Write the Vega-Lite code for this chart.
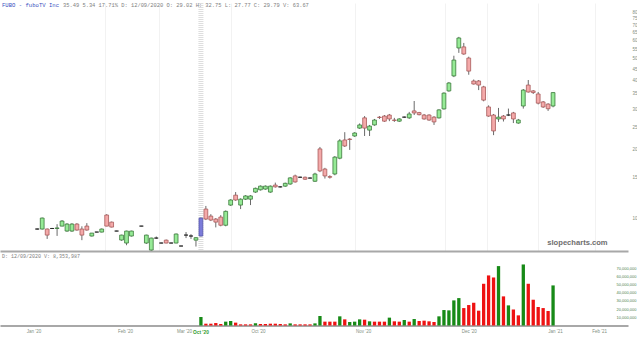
{
  "$schema": "https://vega.github.io/schema/vega-lite/v6.json",
  "padding": 0,
  "background": "white",
  "bounds": "flush",
  "spacing": 2.5,
  "config": {"view": {"stroke": null}, "concat": {"spacing": 2.5}, "axisY": {"labelOverlap": false, "labelBound": false}},
  "title": {"text": "FUBO - fuboTV Inc", "anchor": "start", "frame": "group", "offset": -8, "dx": 2, "font": "Liberation Mono", "fontSize": 5.6, "fontWeight": "normal", "color": "#3a4fc0"},
  "datasets": {
    "bars": [
      {"i":6,"o":8.95,"h":9.0,"l":8.9,"c":8.95},
      {"i":7,"o":8.95,"h":10.05,"l":8.9,"c":10.0},
      {"i":8,"o":8.95,"h":9.0,"l":8.1,"c":8.42},
      {"i":9,"o":9.0,"h":9.05,"l":8.95,"c":9.0},
      {"i":10,"o":9.0,"h":9.4,"l":8.35,"c":9.05},
      {"i":11,"o":9.22,"h":9.8,"l":9.2,"c":9.7},
      {"i":12,"o":8.77,"h":9.5,"l":8.7,"c":9.41},
      {"i":13,"o":8.77,"h":9.5,"l":8.7,"c":9.41},
      {"i":14,"o":9.41,"h":9.5,"l":8.8,"c":8.86},
      {"i":15,"o":8.95,"h":9.2,"l":8.0,"c":8.42},
      {"i":16,"o":9.22,"h":9.5,"l":8.8,"c":8.86},
      {"i":17,"o":8.34,"h":8.6,"l":8.3,"c":8.59},
      {"i":18,"o":8.68,"h":8.7,"l":8.66,"c":8.68},
      {"i":19,"o":8.68,"h":9.0,"l":8.65,"c":8.95},
      {"i":20,"o":10.31,"h":10.4,"l":9.2,"c":9.22},
      {"i":21,"o":9.6,"h":9.65,"l":9.1,"c":9.13},
      {"i":22,"o":8.77,"h":8.8,"l":8.75,"c":8.77},
      {"i":23,"o":8.01,"h":8.45,"l":7.95,"c":8.42},
      {"i":24,"o":7.77,"h":8.8,"l":7.6,"c":8.77},
      {"i":25,"o":8.34,"h":8.8,"l":8.3,"c":8.77},
      {"i":27,"o":9.22,"h":9.24,"l":9.2,"c":9.22},
      {"i":28,"o":7.77,"h":8.45,"l":7.7,"c":8.42},
      {"i":29,"o":7.24,"h":8.2,"l":7.2,"c":8.17},
      {"i":30,"o":8.17,"h":8.3,"l":8.1,"c":8.17},
      {"i":31,"o":7.77,"h":7.8,"l":7.75,"c":7.77},
      {"i":32,"o":8.0,"h":8.05,"l":7.75,"c":7.77},
      {"i":33,"o":7.77,"h":7.8,"l":7.75,"c":7.77},
      {"i":34,"o":7.77,"h":8.55,"l":7.75,"c":8.51},
      {"i":35,"o":7.54,"h":7.56,"l":7.52,"c":7.54},
      {"i":36,"o":8.42,"h":8.68,"l":8.17,"c":8.42},
      {"i":37,"o":8.34,"h":8.5,"l":8.1,"c":8.34},
      {"i":38,"o":8.0,"h":8.25,"l":7.5,"c":8.2},
      {"i":39,"o":8.34,"h":10.05,"l":8.3,"c":10.0,"v":10400000,"vd":"u"},
      {"i":40,"o":10.95,"h":11.3,"l":9.8,"c":9.9,"v":2200000,"vd":"d"},
      {"i":41,"o":10.2,"h":10.4,"l":9.7,"c":9.8,"v":2200000,"vd":"d"},
      {"i":42,"o":9.9,"h":10.0,"l":9.1,"c":9.6,"v":3000000,"vd":"d"},
      {"i":43,"o":10.1,"h":10.3,"l":9.2,"c":9.3,"v":1800000,"vd":"d"},
      {"i":44,"o":9.3,"h":10.8,"l":9.2,"c":10.7,"v":4700000,"vd":"u"},
      {"i":45,"o":11.4,"h":12.1,"l":11.3,"c":12.0,"v":5500000,"vd":"u"},
      {"i":46,"o":12.6,"h":13.0,"l":11.9,"c":12.0,"v":3500000,"vd":"d"},
      {"i":47,"o":11.4,"h":12.2,"l":10.95,"c":12.1,"v":1400000,"vd":"d"},
      {"i":48,"o":12.1,"h":12.6,"l":12.0,"c":12.5,"v":1400000,"vd":"d"},
      {"i":49,"o":12.1,"h":12.6,"l":11.4,"c":12.5,"v":1400000,"vd":"d"},
      {"i":50,"o":13.0,"h":13.6,"l":12.9,"c":13.5,"v":2600000,"vd":"u"},
      {"i":51,"o":13.3,"h":13.9,"l":13.2,"c":13.8,"v":1800000,"vd":"d"},
      {"i":52,"o":13.4,"h":13.9,"l":13.3,"c":13.8,"v":1800000,"vd":"d"},
      {"i":53,"o":13.0,"h":13.9,"l":12.9,"c":13.8,"v":2200000,"vd":"d"},
      {"i":54,"o":13.95,"h":14.3,"l":13.6,"c":13.7,"v":2200000,"vd":"d"},
      {"i":55,"o":13.7,"h":13.8,"l":13.6,"c":13.7,"v":1800000,"vd":"d"},
      {"i":56,"o":13.8,"h":14.3,"l":13.7,"c":14.2,"v":1400000,"vd":"d"},
      {"i":57,"o":14.1,"h":15.1,"l":14.0,"c":15.0,"v":2600000,"vd":"u"},
      {"i":58,"o":15.3,"h":15.5,"l":14.3,"c":14.4,"v":1400000,"vd":"d"},
      {"i":59,"o":15.1,"h":15.2,"l":15.0,"c":15.1,"v":1400000,"vd":"d"},
      {"i":60,"o":15.1,"h":15.2,"l":14.7,"c":14.8,"v":1400000,"vd":"d"},
      {"i":61,"o":14.97,"h":15.1,"l":14.9,"c":14.97,"v":1400000,"vd":"d"},
      {"i":62,"o":14.5,"h":15.8,"l":14.4,"c":15.6,"v":2600000,"vd":"u"},
      {"i":63,"o":20.1,"h":20.5,"l":15.9,"c":16.1,"v":11600000,"vd":"u"},
      {"i":64,"o":16.4,"h":16.6,"l":14.9,"c":15.3,"v":4700000,"vd":"d"},
      {"i":65,"o":15.2,"h":15.4,"l":14.9,"c":15.1,"v":4700000,"vd":"d"},
      {"i":66,"o":15.6,"h":18.7,"l":15.4,"c":18.5,"v":4700000,"vd":"d"},
      {"i":67,"o":18.3,"h":22.2,"l":18.1,"c":21.8,"v":11200000,"vd":"u"},
      {"i":68,"o":22.0,"h":23.8,"l":20.5,"c":20.7,"v":7500000,"vd":"d"},
      {"i":69,"o":22.2,"h":22.4,"l":19.9,"c":22.1,"v":4300000,"vd":"u"},
      {"i":70,"o":22.9,"h":23.8,"l":22.7,"c":23.6,"v":4700000,"vd":"u"},
      {"i":71,"o":24.8,"h":26.0,"l":24.6,"c":25.6,"v":7500000,"vd":"u"},
      {"i":72,"o":27.5,"h":28.0,"l":22.9,"c":24.8,"v":7100000,"vd":"d"},
      {"i":73,"o":24.3,"h":25.6,"l":22.9,"c":25.3,"v":5100000,"vd":"u"},
      {"i":74,"o":25.6,"h":27.2,"l":25.4,"c":26.9,"v":4700000,"vd":"d"},
      {"i":75,"o":27.7,"h":28.0,"l":27.2,"c":27.6,"v":4700000,"vd":"d"},
      {"i":76,"o":28.0,"h":28.3,"l":26.4,"c":26.6,"v":4700000,"vd":"d"},
      {"i":77,"o":28.3,"h":28.6,"l":26.6,"c":27.2,"v":9600000,"vd":"u"},
      {"i":78,"o":26.9,"h":27.5,"l":26.4,"c":26.8,"v":5100000,"vd":"d"},
      {"i":79,"o":26.6,"h":27.4,"l":26.4,"c":27.2,"v":4700000,"vd":"d"},
      {"i":80,"o":27.7,"h":27.9,"l":27.5,"c":27.7,"v":6700000,"vd":"u"},
      {"i":81,"o":27.5,"h":29.2,"l":27.2,"c":28.6,"v":4700000,"vd":"d"},
      {"i":82,"o":29.5,"h":32.6,"l":28.3,"c":28.9,"v":7900000,"vd":"u"},
      {"i":83,"o":29.0,"h":29.2,"l":28.2,"c":28.4,"v":5500000,"vd":"d"},
      {"i":84,"o":28.3,"h":28.6,"l":27.0,"c":27.2,"v":5900000,"vd":"d"},
      {"i":85,"o":28.3,"h":28.5,"l":26.7,"c":26.9,"v":5100000,"vd":"d"},
      {"i":86,"o":27.7,"h":28.0,"l":25.6,"c":26.4,"v":4300000,"vd":"d"},
      {"i":87,"o":27.5,"h":30.0,"l":27.3,"c":29.8,"v":11200000,"vd":"u"},
      {"i":88,"o":30.1,"h":35.6,"l":29.9,"c":35.3,"v":18900000,"vd":"u"},
      {"i":89,"o":36.1,"h":39.5,"l":35.8,"c":39.1,"v":18500000,"vd":"u"},
      {"i":90,"o":42.0,"h":51.5,"l":41.5,"c":49.3,"v":30700000,"vd":"u"},
      {"i":91,"o":55.7,"h":62.3,"l":53.0,"c":61.6,"v":33500000,"vd":"u"},
      {"i":92,"o":56.3,"h":58.6,"l":52.0,"c":52.4,"v":21300000,"vd":"d"},
      {"i":93,"o":50.3,"h":51.0,"l":42.5,"c":44.1,"v":25000000,"vd":"d"},
      {"i":94,"o":39.9,"h":40.5,"l":38.5,"c":38.7,"v":27800000,"vd":"d"},
      {"i":95,"o":39.9,"h":40.3,"l":36.4,"c":38.3,"v":18100000,"vd":"d"},
      {"i":96,"o":37.6,"h":38.0,"l":32.5,"c":32.9,"v":51000000,"vd":"d"},
      {"i":97,"o":30.7,"h":31.2,"l":27.8,"c":28.0,"v":61200000,"vd":"d"},
      {"i":98,"o":28.3,"h":28.6,"l":23.1,"c":24.1,"v":58700000,"vd":"d"},
      {"i":99,"o":27.2,"h":30.4,"l":26.4,"c":27.7,"v":72600000,"vd":"u"},
      {"i":100,"o":28.0,"h":28.3,"l":26.5,"c":27.2,"v":35600000,"vd":"d"},
      {"i":101,"o":28.3,"h":30.2,"l":28.0,"c":28.3,"v":24600000,"vd":"u"},
      {"i":102,"o":28.9,"h":29.2,"l":26.1,"c":27.2,"v":19700000,"vd":"d"},
      {"i":103,"o":26.1,"h":27.2,"l":25.9,"c":26.9,"v":12400000,"vd":"d"},
      {"i":104,"o":31.0,"h":36.8,"l":30.2,"c":36.4,"v":74600000,"vd":"u"},
      {"i":105,"o":38.3,"h":40.3,"l":35.5,"c":35.7,"v":51000000,"vd":"d"},
      {"i":106,"o":36.1,"h":36.4,"l":35.0,"c":35.5,"v":31500000,"vd":"d"},
      {"i":107,"o":35.0,"h":35.7,"l":31.5,"c":31.9,"v":22600000,"vd":"d"},
      {"i":108,"o":32.3,"h":32.6,"l":30.4,"c":30.7,"v":21300000,"vd":"d"},
      {"i":109,"o":31.6,"h":31.9,"l":29.5,"c":30.15,"v":17700000,"vd":"d"},
      {"i":110,"o":31.0,"h":35.6,"l":30.6,"c":35.49,"v":49000000,"vd":"u"}
    ],
    "cross": [{"i": 39, "label": "Oct '20", "v": -9000000}],
    "mark": [{"label": "slopecharts.com", "i": 121, "p": 7.6}]
  },
  "vconcat": [
    {
      "width": 628,
      "height": 248,
      "title": {"text": "35.49 5.34 17.71%  D: 12/09/2020  O: 29.02  H: 32.75  L: 27.77  C: 29.79  V: 63.67", "anchor": "start", "frame": "group", "offset": -8, "dx": 63, "font": "Liberation Mono", "fontSize": 5.4, "fontWeight": "normal", "color": "#808080"},
      "layer": [
        {
          "data": {"name": "cross"},
          "mark": {"type": "rule", "color": "#dedede", "strokeWidth": 5, "strokeDash": [1, 1]},
          "encoding": {
            "x": {"field": "i", "type": "quantitative", "scale": {"domain": [-0.5, 124.1], "nice": false, "zero": false},
              "axis": {"orient": "bottom", "title": null, "labels": false, "ticks": false, "domain": true, "domainColor": "#a8a8a8", "domainWidth": 2, "grid": true, "gridColor": "#f2f2f2", "gridWidth": 1, "values": [19.7, 30.6, 45, 70, 88.3, 96.7, 107, 118.5]}}
          }
        },
        {
          "data": {"name": "bars"},
          "mark": {"type": "rule", "color": "#444444", "strokeWidth": 0.8},
          "encoding": {
            "x": {"field": "i", "type": "quantitative"},
            "y": {"field": "l", "type": "quantitative", "scale": {"type": "log", "domain": [7.17, 87.7], "nice": false, "zero": false},
              "axis": {"orient": "right", "title": null, "values": [10, 15, 20, 25, 30, 35, 40, 45, 50, 55, 60, 65, 70, 75, 80], "labelFontSize": 4.5, "labelColor": "#7f8f7f", "labelFont": "Liberation Sans", "labelAlign": "right", "labelOverlap": false, "ticks": false, "domain": false, "grid": false, "labelPadding": 9}},
            "y2": {"field": "h"}
          }
        },
        {
          "data": {"name": "bars"},
          "mark": {"type": "bar", "size": 3.8, "strokeWidth": 0.8},
          "encoding": {
            "x": {"field": "i", "type": "quantitative"},
            "y": {"field": "o", "type": "quantitative"},
            "y2": {"field": "c"},
            "fill": {"condition": [{"test": "datum.i == 39", "value": "#7b7bd9"}, {"test": "datum.c >= datum.o", "value": "#96ea96"}], "value": "#f4a9a9"},
            "stroke": {"condition": [{"test": "datum.i == 39", "value": "#5555aa"}, {"test": "datum.c == datum.o", "value": "#222222"}, {"test": "datum.c > datum.o", "value": "#3b7a3b"}], "value": "#a85a5a"}
          }
        },
        {
          "data": {"name": "mark"},
          "mark": {"type": "text", "align": "right", "baseline": "alphabetic", "font": "Liberation Sans", "fontWeight": "bold", "fontSize": 7.6, "color": "#6e6e6e"},
          "encoding": {
            "x": {"field": "i", "type": "quantitative"},
            "y": {"field": "p", "type": "quantitative"},
            "text": {"field": "label"}
          }
        }
      ]
    },
    {
      "width": 628,
      "height": 72,
      "title": {"text": "D: 12/09/2020  V:  8,353,987", "anchor": "start", "frame": "group", "offset": -5.5, "dx": 2, "font": "Liberation Mono", "fontSize": 5, "fontWeight": "normal", "color": "#808080"},
      "encoding": {
        "x": {"field": "i", "type": "quantitative", "scale": {"domain": [-0.5, 124.1], "nice": false, "zero": false},
          "axis": {"orient": "bottom", "title": null, "values": [5.25, 23.7, 35.6, 50.5, 71.7, 93.0, 110.4, 119.3],
            "labelExpr": "datum.value < 10 ? \"Jan '20\" : datum.value < 30 ? \"Feb '20\" : datum.value < 40 ? \"Mar '20\" : datum.value < 60 ? \"Oct '20\" : datum.value < 80 ? \"Nov '20\" : datum.value < 100 ? \"Dec '20\" : datum.value < 115 ? \"Jan '21\" : \"Feb '21\"",
            "labelFontSize": 4.5, "labelColor": "#7f8f7f", "labelFont": "Liberation Sans", "labelOverlap": false, "ticks": false, "domain": true, "domainColor": "#a8a8a8", "domainWidth": 2, "grid": false, "labelPadding": 3}},
        "y": {"field": "v", "type": "quantitative", "scale": {"domain": [0, 88000000], "nice": false},
          "axis": {"orient": "right", "title": null, "values": [10000000, 20000000, 30000000, 40000000, 50000000, 60000000, 70000000], "labelExpr": "format(datum.value, ',')", "labelFontSize": 4.0, "labelColor": "#4f804f", "labelFont": "Liberation Sans", "labelAlign": "right", "labelOverlap": false, "labelBound": false, "labelSeparation": 0, "ticks": false, "domain": false, "grid": false, "labelPadding": 8}}
      },
      "layer": [
        {
          "data": {"name": "bars"},
          "transform": [{"filter": "isValid(datum.v)"}],
          "mark": {"type": "bar", "size": 3.3},
          "encoding": {
            "color": {"field": "vd", "type": "nominal", "scale": {"domain": ["u", "d"], "range": ["#178a17", "#ee1212"]}, "legend": null}
          }
        },
        {
          "data": {"name": "cross"},
          "mark": {"type": "text", "align": "center", "baseline": "middle", "font": "Liberation Sans", "fontWeight": "bold", "fontSize": 4.8, "color": "#2e9a2e"},
          "encoding": {
            "text": {"field": "label"}
          }
        }
      ]
    }
  ]
}
